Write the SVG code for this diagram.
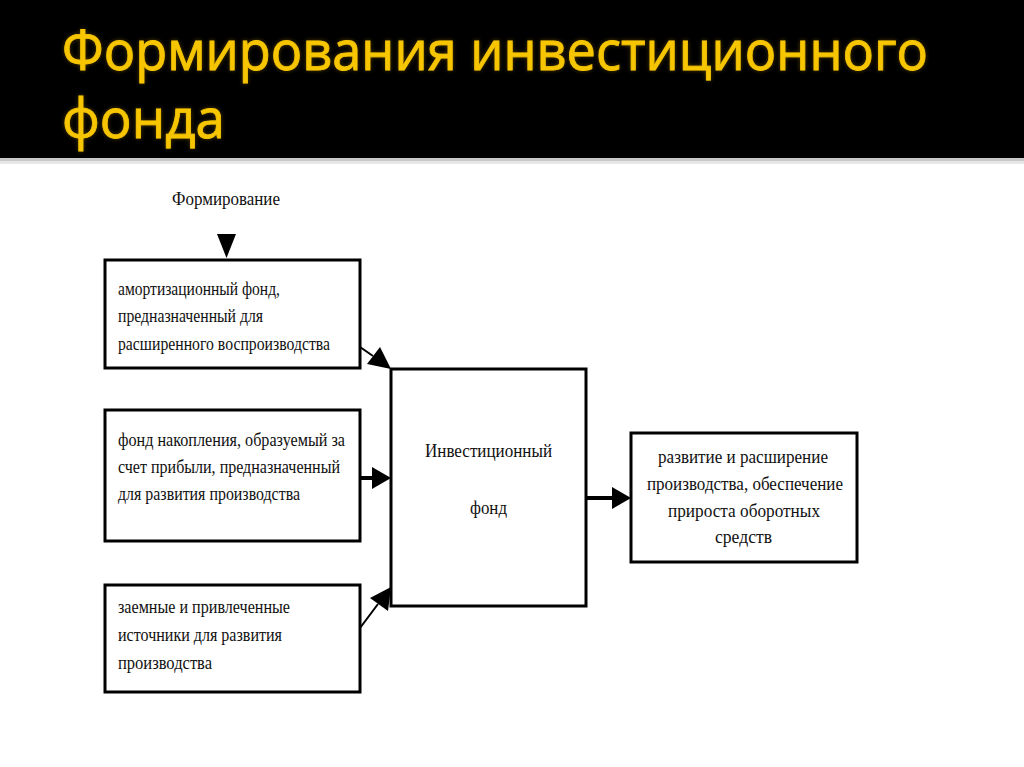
<svg xmlns="http://www.w3.org/2000/svg" width="1024" height="767" viewBox="0 0 1024 767">
<defs>
<style>
.box{fill:#fff;stroke:#000;stroke-width:3}
.t{font-family:"Liberation Serif",serif;font-size:19px;fill:#111}
.title{font-family:"Open Sans","Liberation Sans",sans-serif;font-weight:400;font-size:55px;fill:#F7C600;stroke:#F7C600;stroke-width:0.8}
.ln{stroke:#000;fill:none}
</style>
<filter id="glow" filterUnits="userSpaceOnUse" x="0" y="0" width="1024" height="160">
<feGaussianBlur in="SourceAlpha" stdDeviation="2" result="b"/>
<feFlood flood-color="#5a4300" flood-opacity="0.9"/>
<feComposite in2="b" operator="in" result="g"/>
<feMerge><feMergeNode in="g"/><feMergeNode in="SourceGraphic"/></feMerge>
</filter>
</defs>
<rect x="0" y="0" width="1024" height="767" fill="#fff"/>
<rect x="0" y="0" width="1024" height="158" fill="#000"/>
<rect x="0" y="158" width="1024" height="3" fill="#c8c8c8"/>
<rect x="0" y="161" width="1024" height="3" fill="#e6e6e6"/>
<g id="title" filter="url(#glow)">
<text class="title" x="62" y="70" textLength="866" lengthAdjust="spacingAndGlyphs">Формирования инвестиционного</text>
<text class="title" x="62" y="138" textLength="163" lengthAdjust="spacingAndGlyphs">фонда</text>
</g>
<g id="label-formirovanie">
<text class="t" x="172" y="205" textLength="108" lengthAdjust="spacingAndGlyphs">Формирование</text>
</g>
<g id="node-amort">
<rect class="box" x="105" y="260" width="255" height="108"/>
<text class="t" x="118" y="295" textLength="162" lengthAdjust="spacingAndGlyphs">амортизационный фонд,</text>
<text class="t" x="118" y="322" textLength="145" lengthAdjust="spacingAndGlyphs">предназначенный для</text>
<text class="t" x="118" y="350" textLength="212" lengthAdjust="spacingAndGlyphs">расширенного воспроизводства</text>
</g>
<g id="node-nakop">
<rect class="box" x="105" y="410" width="255" height="131"/>
<text class="t" x="118" y="446" textLength="227" lengthAdjust="spacingAndGlyphs">фонд накопления, образуемый за</text>
<text class="t" x="118" y="473" textLength="222" lengthAdjust="spacingAndGlyphs">счет прибыли, предназначенный</text>
<text class="t" x="118" y="500" textLength="182" lengthAdjust="spacingAndGlyphs">для развития производства</text>
</g>
<g id="node-zaem">
<rect class="box" x="105" y="585" width="255" height="107"/>
<text class="t" x="118" y="613" textLength="172" lengthAdjust="spacingAndGlyphs">заемные и привлеченные</text>
<text class="t" x="118" y="641" textLength="164" lengthAdjust="spacingAndGlyphs">источники для развития</text>
<text class="t" x="118" y="669" textLength="94" lengthAdjust="spacingAndGlyphs">производства</text>
</g>
<g id="node-fund">
<rect class="box" x="391" y="369" width="195" height="237"/>
<text class="t" x="425" y="457" textLength="127" lengthAdjust="spacingAndGlyphs">Инвестиционный</text>
<text class="t" x="470" y="514" textLength="37" lengthAdjust="spacingAndGlyphs">фонд</text>
</g>
<g id="node-result">
<rect class="box" x="631" y="433" width="226" height="129"/>
<text class="t" x="658" y="463" textLength="170" lengthAdjust="spacingAndGlyphs">развитие и расширение</text>
<text class="t" x="647" y="490" textLength="196" lengthAdjust="spacingAndGlyphs">производства, обеспечение</text>
<text class="t" x="668" y="517" textLength="152" lengthAdjust="spacingAndGlyphs">прироста оборотных</text>
<text class="t" x="715" y="543" textLength="57" lengthAdjust="spacingAndGlyphs">средств</text>
</g>
<g id="connectors">
<polygon points="217,234 236,234 226.5,258" fill="#000"/>
<line class="ln" x1="360" y1="347" x2="373" y2="356" stroke-width="2"/>
<polygon points="391,369 367,364 380,347" fill="#000"/>
<line class="ln" x1="360" y1="478" x2="374" y2="478" stroke-width="4"/>
<polygon points="391,478 372,467 372,489" fill="#000"/>
<line class="ln" x1="360" y1="628" x2="378" y2="604" stroke-width="2"/>
<polygon points="391,587 388,611 370,598" fill="#000"/>
<line class="ln" x1="586" y1="498" x2="614" y2="498" stroke-width="4"/>
<polygon points="631,498 612,487 612,509" fill="#000"/>
</g>
</svg>
